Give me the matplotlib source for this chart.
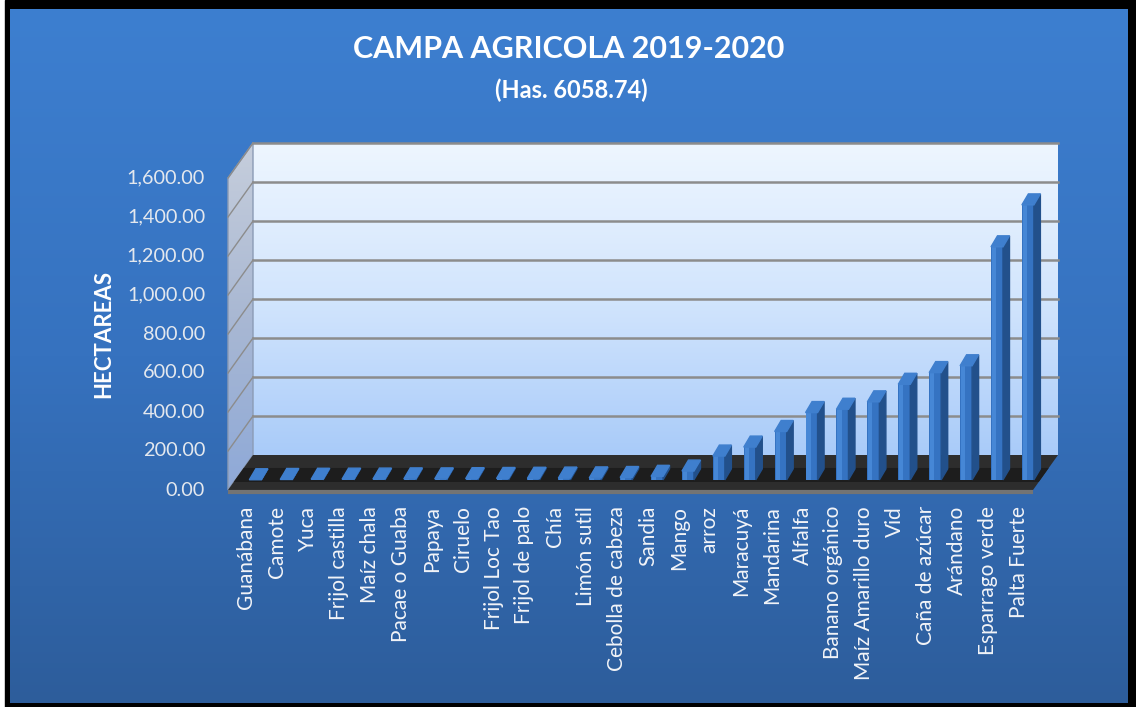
import matplotlib.pyplot as plt
import numpy as np
from matplotlib.colors import LinearSegmentedColormap
from matplotlib.patches import Polygon, Rectangle

# Data
cultivos = [
    "Guanábana", "Camote", "Yuca", "Frijol castilla", "Maíz chala",
    "Pacae o Guaba", "Papaya", "Ciruelo", "Frijol Loc Tao", "Frijol de palo",
    "Chía", "Limón sutil", "Cebolla de cabeza", "Sandia", "Mango", "arroz",
    "Maracuyá", "Mandarina", "Alfalfa", "Banano orgánico", "Maíz Amarillo duro",
    "Vid", "Caña de azúcar", "Arándano", "Esparrago verde", "Palta Fuerte",
]
hectareas = [
    0.5, 2.0, 3.0, 3.5, 4.0, 5.0, 5.0, 6.0, 7.0, 8.0, 9.0, 10.0, 12.0, 18.0,
    45.0, 122.0, 168.0, 248.0, 345.0, 362.0, 400.0, 490.0, 550.0, 585.0,
    1195.0, 1410.0,
]
y_ticks = [0, 200, 400, 600, 800, 1000, 1200, 1400, 1600]
titulo = "CAMPA AGRICOLA 2019-2020"
subtitulo = "(Has. 6058.74)"
eje_y = "HECTAREAS"

W, H, DPI = 1136, 707, 100
FONT = ["Lato", "DejaVu Sans"]
plt.rcParams["font.family"] = FONT

fig = plt.figure(figsize=(W / DPI, H / DPI), dpi=DPI, facecolor="white")

# background: black frame + blue gradient
bg = fig.add_axes([0, 0, 1, 1], zorder=0)
grad = np.linspace(0, 1, 256).reshape(-1, 1)
bg.add_patch(Rectangle((5, 0), W - 5, H, color="black", zorder=1))
bg_cmap = LinearSegmentedColormap.from_list("bg", ["#3d7fd0", "#3672bf", "#2d5d9b"])
bg.imshow(grad, extent=(10, W - 8, H - 4, 9), cmap=bg_cmap, aspect="auto", zorder=2)
bg.set_xlim(0, W)
bg.set_ylim(H, 0)
bg.axis("off")

# plot area = back wall of the 3D box
L, R, T, B = 253, 1058, 143, 455
ax = fig.add_axes([L / W, 1 - B / H, (R - L) / W, (B - T) / H], zorder=1)
XMIN, XMAX, YMAX = -0.65, 25.4, 1600
px_x = (R - L) / (XMAX - XMIN)
px_y = (B - T) / YMAX


def dx(p):
    return p / px_x


def dy(p):
    return p / px_y


DX, DY = dx(-25), dy(-35)  # front of the box relative to back wall
F = 0.71  # depth of the bar plane

wall_cmap = LinearSegmentedColormap.from_list("wall", ["#eef6ff", "#d2e5fd", "#a9cbf9"])
ax.imshow(grad, extent=(XMIN, XMAX, 0, YMAX), cmap=wall_cmap, aspect="auto", zorder=0)

# side wall
side = Polygon([(XMIN, 0), (XMIN, YMAX), (XMIN + DX, YMAX + DY), (XMIN + DX, DY)],
               closed=True, fc="none", ec="#8b9bb5", lw=1, clip_on=False, zorder=1)
ax.add_patch(side)
side_cmap = LinearSegmentedColormap.from_list("side", ["#c6cedc", "#a9b8d3", "#8ea9d8"])
side_im = ax.imshow(grad, extent=(XMIN + DX, XMIN, DY, YMAX), cmap=side_cmap,
                    aspect="auto", clip_path=side, zorder=0.5)
side_im.set_clip_box(fig.bbox)

# gridlines on back and side walls
for v in y_ticks[1:]:
    ax.plot([XMIN, XMAX], [v, v], color="#8c8c8c", lw=1.8, zorder=1, clip_on=False)
    ax.plot([XMIN + DX, XMIN], [v + DY, v], color="#8c8c8c", lw=1.0, zorder=1, clip_on=False)

# floor
ax.add_patch(Polygon([(XMIN, 0), (XMAX, 0), (XMAX + DX, DY), (XMIN + DX, DY)],
                     closed=True, fc="#2d2d2d", ec="none", clip_on=False, zorder=2))
a, b = 0.37, 0.77
ax.add_patch(Polygon([(XMIN + a * DX, a * DY), (XMAX + a * DX, a * DY),
                      (XMAX + b * DX, b * DY), (XMIN + b * DX, b * DY)],
                     closed=True, fc="#1d1d1d", ec="none", clip_on=False, zorder=2))
ax.plot([XMIN + DX, XMAX + DX], [DY - dy(1.5), DY - dy(1.5)], color="#747474",
        lw=3, clip_on=False, zorder=2, solid_capstyle="butt")

# bars
x = np.arange(len(cultivos))
bw = dx(12)
bdx, bdy = dx(6.5), dy(11)
xf = x + F * DX
y0 = F * DY
ax.bar(xf, hectareas, width=bw, bottom=y0, color="#3573c2", zorder=3, clip_on=False)
ax.bar(xf - bw * 0.25, hectareas, width=bw * 0.35, bottom=y0, color="#4687d6",
       zorder=3.1, clip_on=False)
for xi, v in zip(xf, hectareas):
    r = xi + bw / 2
    l = xi - bw / 2
    ax.fill([r, r, r + bdx, r + bdx], [y0, y0 + v, y0 + v + bdy, y0 + bdy],
            color="#22508b", zorder=3, clip_on=False)
    ax.fill([l, r, r + bdx, l + bdx], [y0 + v, y0 + v, y0 + v + bdy, y0 + v + bdy],
            color="#3f7fce", zorder=3.2, clip_on=False)

# y tick labels on the front edge of the side wall
for v in y_ticks:
    ax.text(XMIN + DX - dx(23), v + DY, f"{v:,.2f}", ha="right", va="center",
            fontsize=14.3, color="#e4e8ee", clip_on=False)

# category labels
for xi, name in zip(xf, cultivos):
    ax.text(xi - dx(9), DY - dy(16), name, rotation=90, ha="center", va="top",
            fontsize=15, color="#f2f4f8", clip_on=False)

ax.set_xlim(XMIN, XMAX)
ax.set_ylim(0, YMAX)
ax.axis("off")

fig.text(569 / W, 1 - 49 / H, titulo, ha="center", va="center", fontsize=22,
         fontweight="bold", color="white")
fig.text(571 / W, 1 - 90 / H, subtitulo, ha="center", va="center", fontsize=17,
         fontweight="bold", color="white")
fig.text(104 / W, 1 - 334 / H, eje_y, rotation=90, ha="center", va="center",
         fontsize=16, fontweight="bold", color="white")

fig.savefig("out.png", dpi=DPI, facecolor=fig.get_facecolor())
